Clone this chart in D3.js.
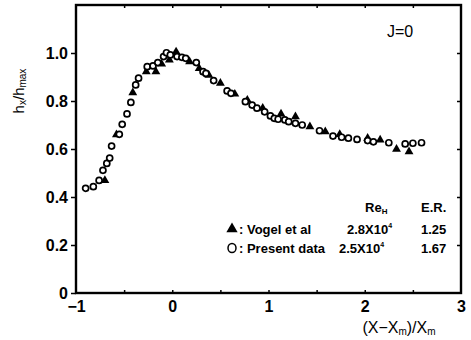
<!DOCTYPE html>
<html>
<head>
<meta charset="utf-8">
<script src="https://cdn.jsdelivr.net/npm/d3@7"></script>
<style>
  body { margin: 0; background: #fff; }
  text { font-family: "Liberation Sans", Arial, sans-serif; fill: #000; }
</style>
</head>
<body>
<div id="chart"></div>
<script>
// present data (open circles): [x, h/hmax]
const presentX = [-0.90, -0.82, -0.76, -0.72, -0.68, -0.65, -0.63, -0.55, -0.52, -0.47, -0.43, -0.38, -0.35, -0.26, -0.20, -0.15, -0.09, -0.06, -0.02, 0.05, 0.10, 0.14, 0.25, 0.32, 0.35, 0.43, 0.57, 0.61, 0.76, 0.83, 0.88, 0.96, 1.02, 1.06, 1.10, 1.17, 1.21, 1.28, 1.35, 1.53, 1.67, 1.76, 1.83, 1.92, 2.03, 2.09, 2.25, 2.42, 2.50, 2.59];
const presentY = [0.436, 0.443, 0.469, 0.511, 0.540, 0.562, 0.612, 0.661, 0.703, 0.746, 0.794, 0.867, 0.895, 0.943, 0.946, 0.960, 0.985, 1.001, 0.992, 0.985, 0.982, 0.978, 0.960, 0.922, 0.915, 0.885, 0.842, 0.832, 0.797, 0.783, 0.770, 0.755, 0.738, 0.728, 0.724, 0.721, 0.714, 0.707, 0.700, 0.676, 0.654, 0.649, 0.645, 0.640, 0.635, 0.630, 0.626, 0.621, 0.624, 0.626];

// Vogel et al (filled triangles)
const vogelX = [-0.70, -0.58, -0.41, -0.27, -0.17, -0.11, -0.03, 0.04, 0.18, 0.28, 0.38, 0.50, 0.65, 0.78, 0.94, 1.13, 1.28, 1.43, 1.59, 1.74, 2.03, 2.16, 2.33, 2.46];
const vogelY = [0.469, 0.660, 0.835, 0.922, 0.922, 0.954, 0.971, 1.005, 0.964, 0.936, 0.908, 0.874, 0.829, 0.804, 0.770, 0.746, 0.735, 0.693, 0.672, 0.661, 0.645, 0.638, 0.599, 0.589];

const xTicks = [-1, 0, 1, 2, 3];
const yTicks = [0, 0.2, 0.4, 0.6, 0.8, 1.0];
const yTickLabels = ["0", "0.2", "0.4", "0.6", "0.8", "1.0"];

const legendRows = [
  { label: ": Vogel et al", re: "2.8X10", er: "1.25", kind: "tri" },
  { label: ": Present data", re: "2.5X10", er: "1.67", kind: "circ" }
];

var margin = { top: 5, right: 10, bottom: 47, left: 76 },
  width = 471 - margin.left - margin.right,
  height = 340 - margin.top - margin.bottom;

var svg = d3.select("#chart")
  .append("svg")
  .attr("width", 471)
  .attr("height", 340)
  .append("g")
  .attr("transform", "translate(" + margin.left + "," + margin.top + ")");

var x = d3.scaleLinear().domain([-1, 3]).range([0, width]);
var y = d3.scaleLinear().domain([0, 1.2]).range([height, 0]);

// left axis, outward ticks
svg.append("g")
  .call(d3.axisLeft(y).tickValues(yTicks).tickSize(5).tickPadding(3)
    .tickFormat((d, i) => yTickLabels[i]))
  .call(g => g.select(".domain").remove())
  .call(g => g.selectAll("line").attr("stroke-width", 1.5))
  .call(g => g.selectAll("text").style("font-size", "16px").style("font-weight", "bold"));

// right axis, inward ticks
svg.append("g")
  .attr("transform", "translate(" + width + ",0)")
  .call(d3.axisLeft(y).tickValues(yTicks.slice(1)).tickSize(4).tickFormat(""))
  .call(g => g.select(".domain").remove())
  .call(g => g.selectAll("line").attr("stroke-width", 1.5));

// bottom axis: labels + inward minor ticks
svg.append("g")
  .attr("transform", "translate(0," + height + ")")
  .call(d3.axisBottom(x).tickValues(xTicks).tickSize(0).tickPadding(8)
    .tickFormat(d => d < 0 ? "\u2212" + Math.abs(d) : d))
  .call(g => g.select(".domain").remove())
  .call(g => g.selectAll("text").style("font-size", "16px").style("font-weight", "bold"));

svg.append("g")
  .attr("transform", "translate(0," + height + ")")
  .call(d3.axisTop(x).tickValues(d3.range(-0.5, 3, 0.5)).tickSize(3).tickFormat(""))
  .call(g => g.select(".domain").remove())
  .call(g => g.selectAll("line").attr("stroke-width", 1.5));

svg.append("g")
  .call(d3.axisBottom(x).tickValues(d3.range(-0.5, 3, 0.5)).tickSize(3).tickFormat(""))
  .call(g => g.select(".domain").remove())
  .call(g => g.selectAll("line").attr("stroke-width", 1.5));

// frame
svg.append("rect")
  .attr("width", width)
  .attr("height", height)
  .attr("fill", "none")
  .attr("stroke", "#000")
  .attr("stroke-width", 2.4);

// data
var tri = d3.symbol().type(d3.symbolTriangle).size(34);

svg.append("g")
  .selectAll("path")
  .data(vogelX.map((v, i) => [v, vogelY[i]]))
  .enter()
  .append("path")
  .attr("d", tri)
  .attr("transform", d => "translate(" + x(d[0]) + "," + y(d[1]) + ")")
  .attr("fill", "#000");

svg.append("g")
  .selectAll("circle")
  .data(presentX.map((v, i) => [v, presentY[i]]))
  .enter()
  .append("circle")
  .attr("cx", d => x(d[0]))
  .attr("cy", d => y(d[1]))
  .attr("r", 3)
  .attr("fill", "#fff")
  .attr("stroke", "#000")
  .attr("stroke-width", 1.7);

// J=0
svg.append("text")
  .attr("x", 311)
  .attr("y", 32)
  .style("font-size", "16px")
  .text("J=0");

// legend
var lg = svg.append("g").style("font-size", "13px").style("font-weight", "bold");

var reHead = lg.append("text").attr("x", 289).attr("y", 207);
reHead.append("tspan").text("Re");
reHead.append("tspan").attr("dy", 2).style("font-size", "8px").text("H");
lg.append("text").attr("x", 345).attr("y", 207).text("E.R.");

var rowY = [229, 248];
var reX = [271, 263];
legendRows.forEach((r, i) => {
  if (r.kind === "tri") {
    lg.append("path")
      .attr("d", d3.symbol().type(d3.symbolTriangle).size(55))
      .attr("transform", "translate(156," + (rowY[i] - 5) + ")");
  } else {
    lg.append("ellipse")
      .attr("cx", 156).attr("cy", rowY[i] - 5)
      .attr("rx", 4).attr("ry", 4.6)
      .attr("fill", "none").attr("stroke", "#000").attr("stroke-width", 1.5);
  }
  lg.append("text").attr("x", 163).attr("y", rowY[i]).text(r.label);
  var t = lg.append("text").attr("x", reX[i]).attr("y", rowY[i]);
  t.append("tspan").text(r.re);
  t.append("tspan").attr("dy", -6).style("font-size", "7px").text("4");
  lg.append("text").attr("x", 345).attr("y", rowY[i]).text(r.er);
});

// axis titles
var yt = svg.append("text")
  .attr("transform", "translate(-52," + 86 + ") rotate(-90)")
  .attr("text-anchor", "middle")
  .style("font-size", "15px");
yt.append("tspan").text("h");
yt.append("tspan").attr("dy", 2).style("font-size", "10px").text("x");
yt.append("tspan").attr("dy", -2).text("/h");
yt.append("tspan").attr("dy", 2).style("font-size", "10px").text("max");

var xt = svg.append("text")
  .attr("x", 323)
  .attr("y", 328)
  .attr("text-anchor", "middle")
  .style("font-size", "16px");
xt.append("tspan").text("(X\u2212X");
xt.append("tspan").attr("dy", 2).style("font-size", "10px").text("m");
xt.append("tspan").attr("dy", -2).text(")/X");
xt.append("tspan").attr("dy", 2).style("font-size", "10px").text("m");
</script>
</body>
</html>
